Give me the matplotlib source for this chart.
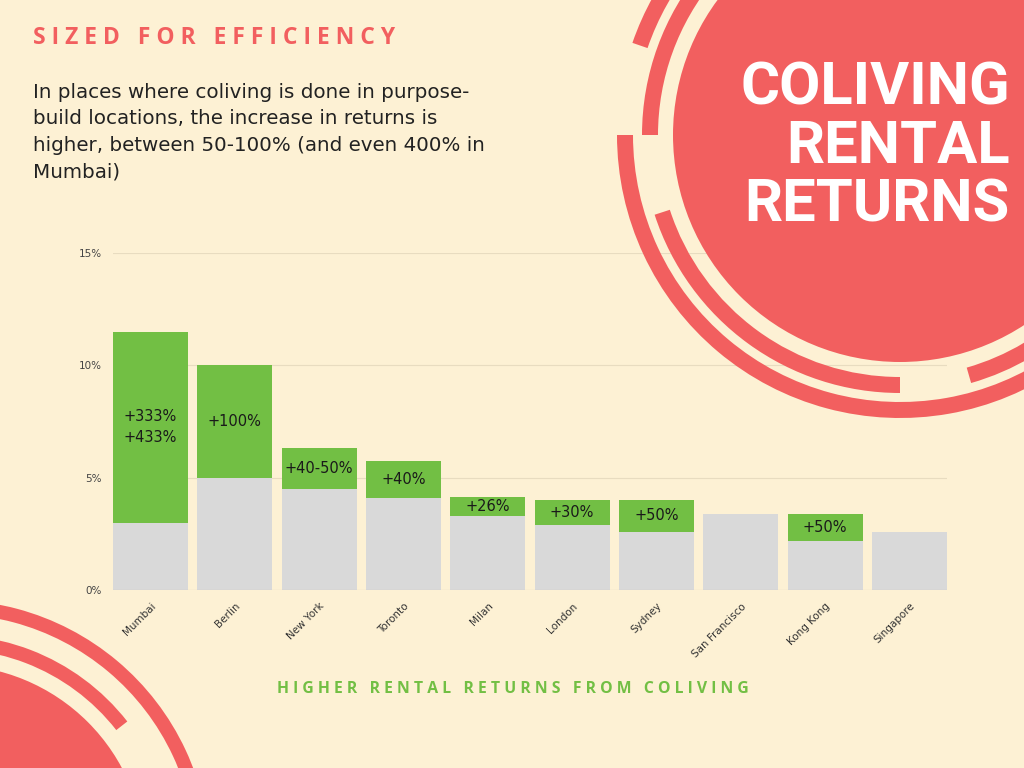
import matplotlib
matplotlib.use("Agg")
import matplotlib.pyplot as plt
from matplotlib.patches import Circle, Wedge

cities = ["Mumbai", "Berlin", "New York", "Toronto", "Milan", "London", "Sydney",
          "San Francisco", "Kong Kong", "Singapore"]
base_returns = [3.0, 5.0, 4.5, 4.1, 3.3, 2.9, 2.6, 3.4, 2.2, 2.6]
coliving_returns = [11.5, 10.0, 6.3, 5.75, 4.15, 4.0, 4.0, 3.4, 3.4, 2.6]
increase_labels = ["+333%\n+433%", "+100%", "+40-50%", "+40%", "+26%", "+30%", "+50%", "", "+50%", ""]
y_ticks = [0, 5, 10, 15]
y_tick_labels = ["0%", "5%", "10%", "15%"]

BG = "#FDF1D4"
RED = "#F25F5F"
GREEN = "#72BF44"
GRAY = "#D9D9D9"

fig = plt.figure(figsize=(10.24, 7.68), dpi=100, facecolor=BG)

ax = fig.add_axes([113 / 1024, 178 / 768, 834 / 1024, 337 / 768], zorder=1)
ax.patch.set_alpha(0)
x = list(range(len(cities)))
w = 0.89
ax.bar(x, coliving_returns, width=w, color=GREEN, zorder=2)
ax.bar(x, base_returns, width=w, color=GRAY, zorder=3)
for i, lab in enumerate(increase_labels):
    if lab:
        ax.text(i, (base_returns[i] + coliving_returns[i]) / 2, lab, ha="center", va="center",
                fontsize=10.5, color="#1a1a1a", zorder=4, linespacing=1.5)
ax.set_xlim(-w / 2, len(cities) - 1 + w / 2)
ax.set_ylim(0, 15)
ax.set_yticks(y_ticks)
ax.set_yticklabels(y_tick_labels, fontsize=7.5, color="#444444")
ax.set_xticks(x)
ax.set_xticklabels(cities, rotation=45, ha="right", rotation_mode="anchor", fontsize=7.5, color="#333333")
ax.tick_params(length=0, pad=8)
for y in y_ticks[1:]:
    ax.axhline(y, color="#E8DCC0", lw=0.8, zorder=1)
ax.axhline(0, color="#B8B0A0", lw=0.8, zorder=5)
for s in ax.spines.values():
    s.set_visible(False)

# decoration layer in pixel coords (y up), above chart gridlines
deco = fig.add_axes([0, 0, 1, 1], zorder=2)
deco.set_xlim(0, 1024); deco.set_ylim(0, 768); deco.axis("off")
deco.patch.set_alpha(0)
cx, cy = 900, 633
deco.add_patch(Circle((cx, cy), 227, color=RED, lw=0))
for r, a1, a2 in [(275, 120, 161), (275, 180, 380), (250, 100, 180), (250, 198, 270), (250, 286, 345)]:
    deco.add_patch(Wedge((cx, cy), r + 8, a1, a2, width=16, color=RED, lw=0))
bx, by = -50, -92
deco.add_patch(Circle((bx, by), 195, color=RED, lw=0))
deco.add_patch(Wedge((bx, by), 225, 38, 100, width=14, color=RED, lw=0))
deco.add_patch(Wedge((bx, by), 260, 0, 100, width=14, color=RED, lw=0))

deco.text(33, 768 - 38, "S I Z E D   F O R   E F F I C I E N C Y", color=RED,
          fontsize=16.5, fontweight="bold", family="Open Sans", va="center", ha="left")
deco.text(33, 768 - 132,
          "In places where coliving is done in purpose-\nbuild locations, the increase in returns is\nhigher, between 50-100% (and even 400% in\nMumbai)",
          color="#222222", fontsize=14.3, family="DejaVu Sans", va="center", ha="left", linespacing=1.5)
deco.text(1010, 768 - 147, "COLIVING\nRENTAL\nRETURNS", color="white", fontsize=43,
          fontweight="bold", family="Roboto", ha="right", va="center", linespacing=1.05)
deco.text(513, 768 - 689, "H I G H E R   R E N T A L   R E T U R N S   F R O M   C O L I V I N G",
          color=GREEN, fontsize=11.3, fontweight="bold", family="Open Sans", ha="center", va="center")

fig.savefig("out.png", dpi=100, facecolor=BG)
